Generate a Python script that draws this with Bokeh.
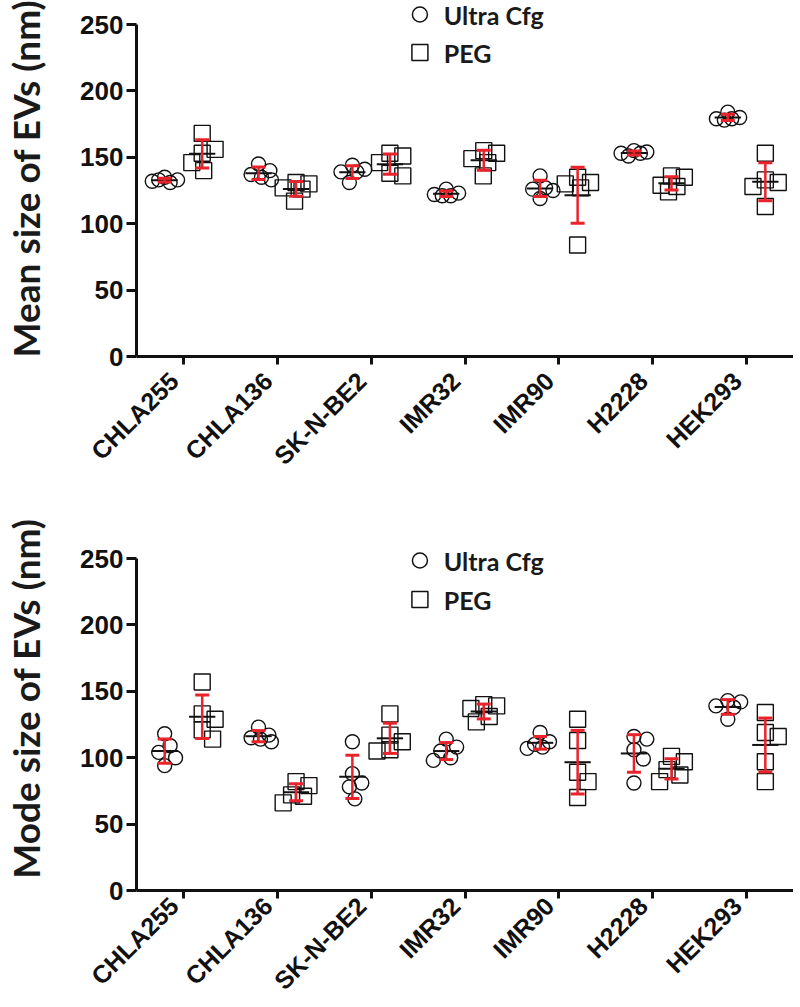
import numpy as np
from bokeh.plotting import figure
from bokeh.layouts import column
from bokeh.models import (Range1d, FixedTicker, ColumnDataSource, Whisker, TeeHead,
                          LinearAxis)
from bokeh.core.properties import value
from bokeh.embed import file_html
from bokeh.resources import INLINE

# ---------------- data ----------------
cell_lines = ["CHLA255", "CHLA136", "SK-N-BE2", "IMR32", "IMR90", "H2228", "HEK293"]
methods = ["Ultra Cfg", "PEG"]
y_ticks = [0, 50, 100, 150, 200, 250]

mean_ultra = [
    [135, 133, 132, 131, 133],
    [145, 140, 137, 135, 133],
    [144, 141, 139, 139, 131],
    [126, 123, 122, 121, 121],
    [136, 127, 126, 125, 119],
    [155, 154, 153, 153, 151],
    [184, 180, 179, 179, 178],
]
mean_peg = [
    [168, 153, 156, 146, 140],
    [131, 130, 127, 126, 117],
    [153, 151, 146, 138, 136],
    [155, 153, 149, 146, 136],
    [135, 131, 130, 127, 84],
    [136, 135, 129, 128, 124],
    [153, 133, 131, 128, 113],
]
mode_ultra = [
    [118, 109, 104, 100, 94],
    [123, 117, 115, 114, 112],
    [112, 88, 81, 78, 69],
    [114, 108, 105, 100, 98],
    [119, 112, 110, 108, 107],
    [116, 114, 106, 99, 81],
    [143, 142, 139, 138, 129],
]
mode_peg = [
    [157, 133, 129, 121, 114],
    [82, 79, 72, 71, 66],
    [133, 117, 112, 106, 105],
    [140, 139, 137, 131, 127],
    [129, 113, 89, 82, 70],
    [101, 97, 91, 87, 82],
    [134, 119, 116, 97, 82],
]

# ---------------- style / layout ----------------
RED = "#e8232b"
INK = "#111111"
W = 793
LEFT = 130
FRAME_W = W - LEFT
PX_X = FRAME_W / len(cell_lines)
PX_Y = 332.0 / 250.0
GROUP_OFF = {"Ultra Cfg": -0.2, "PEG": 0.2}
MARK = {"Ultra Cfg": ("circle", 14, 13.0), "PEG": ("square", 16, 14.0)}
SWARM_HALF = 13.0
LABEL_SHIFT = 0.1   # rotated labels sit slightly left of their tick


def swarm(vals, d):
    """simple bee-swarm in pixel space, clamped to a maximum half-width"""
    cands = sorted(np.arange(-SWARM_HALF, SWARM_HALF + 0.25, 0.5), key=lambda c: (abs(c), -c))
    placed, offs = [], []
    for v in vals:
        y = v * PX_Y
        best, best_d = None, -1.0
        for c in cands:
            md = min([np.hypot(c - px, y - py) for px, py in placed] or [1e9])
            if md >= d:
                best = c
                break
            if md > best_d + 1e-9:
                best, best_d = c, md
        placed.append((best, y))
        offs.append(best)
    return np.array(offs) / PX_X


def panel(title, ultra, peg, height, bottom_border, leg_y_px, label_standoff):
    frame_h = height - bottom_border
    y_end = frame_h / PX_Y
    p = figure(width=W, height=height, output_backend="svg", toolbar_location=None,
               x_range=Range1d(0, len(cell_lines)), y_range=Range1d(0, y_end),
               min_border_left=LEFT, min_border_right=0, min_border_top=0,
               min_border_bottom=bottom_border, title=None)
    p.outline_line_color = None
    p.xgrid.visible = False
    p.ygrid.visible = False

    for name, data in (("Ultra Cfg", ultra), ("PEG", peg)):
        marker, size, d = MARK[name]
        xs, ys, bx, mu, up, lo = [], [], [], [], [], []
        for i, vals in enumerate(data):
            base = i + 0.5 + GROUP_OFF[name]
            offs = swarm(vals, d)
            xs += list(base + offs)
            ys += list(vals)
            m = float(np.mean(vals))
            s = float(np.std(vals, ddof=1))
            bx.append(base); mu.append(m); up.append(m + s); lo.append(m - s)
        p.scatter(xs, ys, marker=marker, size=size, fill_color=None,
                  line_color=INK, line_width=1.4)
        p.segment(x0=[b - 0.14 for b in bx], x1=[b + 0.14 for b in bx],
                  y0=mu, y1=mu, line_color=INK, line_width=2)
        src = ColumnDataSource(dict(base=bx, upper=up, lower=lo))
        w = Whisker(base="base", upper="upper", lower="lower", source=src,
                    line_color=RED, line_width=2.5, level="annotation",
                    upper_head=TeeHead(size=14, line_color=RED, line_width=3),
                    lower_head=TeeHead(size=14, line_color=RED, line_width=3))
        p.add_layout(w)

    # legend drawn in data space (pixel offsets measured from the frame top)
    lx = 286 / PX_X
    tx = 310 / PX_X
    ly = [y_end - leg_y_px[0] / PX_Y, y_end - leg_y_px[1] / PX_Y]
    p.scatter([lx], [ly[0]], marker="circle", size=15, fill_color=None,
              line_color=INK, line_width=1.5)
    p.scatter([lx], [ly[1]], marker="square", size=16, fill_color=None,
              line_color=INK, line_width=1.5)
    p.text(x=[tx, tx], y=ly, text=methods, text_font=value("Lato"),
           text_font_style="bold", text_font_size="25px", text_color="#1a1a1a",
           text_baseline="middle", text_align="left")

    # y axis
    yax = p.yaxis[0]
    yax.bounds = (0, 250)
    yax.ticker = FixedTicker(ticks=y_ticks)
    yax.axis_label = title
    yax.axis_label_text_font = "Lato"
    yax.axis_label_text_font_style = "bold"
    yax.axis_label_text_font_size = "37px"
    yax.axis_label_text_color = "#1a1a1a"
    yax.axis_label_standoff = 29
    yax.major_tick_out = 10
    yax.major_label_standoff = 3
    yax.major_label_text_font_size = "26px"

    # x axis: line + tick marks at category centres
    cat_x = [i + 0.5 for i in range(len(cell_lines))]
    xax = p.xaxis[0]
    xax.ticker = FixedTicker(ticks=cat_x)
    xax.major_label_overrides = {c: "" for c in cat_x}
    xax.major_label_text_font_size = "1px"
    xax.major_label_standoff = 0
    xax.major_tick_out = 8

    for ax in (xax, yax):
        ax.axis_line_width = 3
        ax.axis_line_color = INK
        ax.major_tick_line_width = 3
        ax.major_tick_line_color = INK
        ax.major_tick_in = 0
        ax.minor_tick_line_color = None
        ax.major_label_text_font = "Liberation Sans"
        ax.major_label_text_font_style = "bold"
        ax.major_label_text_color = INK

    # second x axis carrying the rotated category names
    lab_x = [round(c - LABEL_SHIFT, 6) for c in cat_x]
    lab_ax = LinearAxis(ticker=FixedTicker(ticks=lab_x),
                        major_label_overrides={t: n for t, n in zip(lab_x, cell_lines)},
                        major_label_orientation=np.pi / 4,
                        axis_line_color=None, major_tick_line_color=None,
                        minor_tick_line_color=None, major_tick_in=0, major_tick_out=0,
                        major_label_standoff=label_standoff,
                        major_label_text_font="Liberation Sans",
                        major_label_text_font_style="bold",
                        major_label_text_font_size="25px",
                        major_label_text_color=INK)
    p.add_layout(lab_ax, "below")
    return p


# top panel: frame 0..356 px; bottom panel: frame 506..890 px
p1 = panel("Mean size of EVs (nm)", mean_ultra, mean_peg, 506, 150, (14, 52), 12)
p2 = panel("Mode size of EVs (nm)", mode_ultra, mode_peg, 501, 117, (54, 93), 3)
layout = column(p1, p2)

open("out.html", "w").write(file_html(layout, INLINE))
